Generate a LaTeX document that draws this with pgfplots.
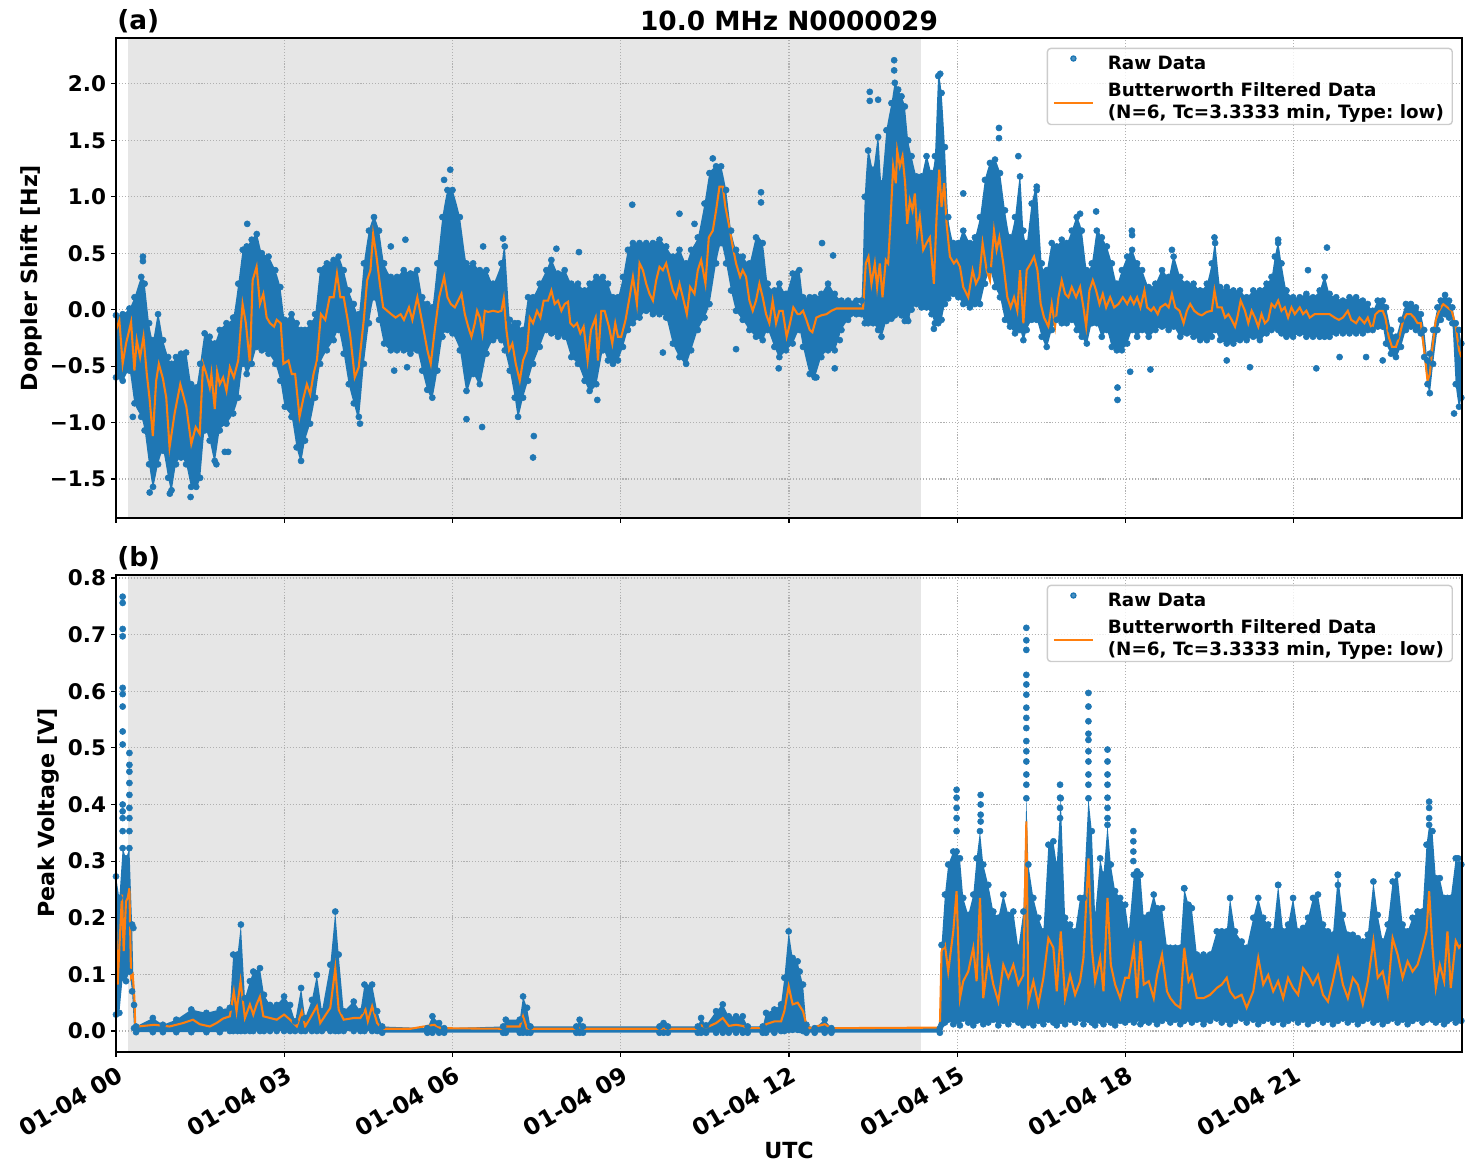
\documentclass[border=0pt]{standalone}
\usepackage{pgfplots}
\pgfplotsset{compat=1.18}
\usepackage{pgfplotstable}
\usepgfplotslibrary{fillbetween}
\usepackage{fontspec}
\setmainfont{DejaVu Sans}
\frenchspacing

\definecolor{mplblue}{HTML}{1F77B4}
\definecolor{mplorange}{HTML}{FF7F0E}
\definecolor{spanbg}{RGB}{230,230,230}
\definecolor{gridgray}{HTML}{B0B0B0}
\definecolor{legframe}{HTML}{CCCCCC}

% ---------- Doppler shift: envelope of the raw samples (t [h], low, high) ----------
\pgfplotstableread{
t lo hi
0.000 -0.60 -0.05
0.120 -0.63 -0.04
0.240 -0.54 0.01
0.330 -0.83 0.11
0.450 -0.95 0.29
0.510 -1.07 0.23
0.590 -1.37 -0.12
0.660 -1.57 -0.27
0.750 -1.37 -0.04
0.840 -1.25 -0.27
0.930 -1.49 -0.42
0.990 -1.60 -0.48
1.070 -1.37 -0.42
1.160 -1.31 -0.39
1.250 -1.37 -0.38
1.340 -1.57 -0.66
1.430 -1.57 -0.69
1.500 -1.49 -0.48
1.580 -1.07 -0.21
1.670 -1.16 -0.24
1.760 -1.34 -0.30
1.850 -1.07 -0.18
1.970 -1.01 -0.12
2.090 -0.92 -0.07
2.180 -0.78 0.23
2.260 -0.48 0.53
2.330 -0.57 0.56
2.420 -0.48 0.62
2.510 -0.33 0.67
2.600 -0.36 0.50
2.720 -0.39 0.47
2.840 -0.48 0.35
2.930 -0.63 0.20
3.010 -0.86 -0.09
3.130 -0.95 -0.04
3.220 -1.22 -0.12
3.300 -1.34 -0.18
3.370 -1.16 -0.18
3.460 -1.01 -0.12
3.550 -0.78 -0.04
3.640 -0.48 0.35
3.760 -0.36 0.41
3.880 -0.27 0.44
3.970 -0.18 0.47
4.060 -0.39 0.35
4.150 -0.66 0.17
4.240 -0.83 0.05
4.330 -0.95 -0.04
4.420 -0.48 0.41
4.510 -0.12 0.70
4.600 0.11 0.82
4.690 -0.09 0.70
4.780 -0.30 0.41
4.900 -0.36 0.29
5.010 -0.36 0.29
5.130 -0.36 0.35
5.250 -0.39 0.32
5.370 -0.36 0.35
5.460 -0.54 0.11
5.550 -0.71 0.05
5.640 -0.78 0.02
5.730 -0.54 0.41
5.820 -0.24 0.82
5.910 -0.18 1.06
6.000 -0.21 1.06
6.131 -0.36 0.82
6.249 -0.72 0.41
6.368 -0.57 0.41
6.487 -0.66 0.35
6.605 -0.39 0.35
6.724 -0.27 0.23
6.872 -0.27 0.41
6.932 -0.36 0.56
7.021 -0.54 -0.09
7.110 -0.78 -0.12
7.169 -0.95 -0.12
7.258 -0.78 -0.18
7.347 -0.63 0.11
7.436 -0.48 0.11
7.555 -0.33 0.23
7.674 -0.18 0.35
7.763 -0.21 0.44
7.881 -0.24 0.32
8.000 -0.24 0.35
8.119 -0.42 0.23
8.237 -0.48 0.23
8.356 -0.63 0.17
8.445 -0.72 0.23
8.564 -0.66 0.29
8.682 -0.36 0.29
8.772 -0.45 0.23
8.861 -0.48 0.11
8.950 -0.45 0.11
9.039 -0.33 0.29
9.128 -0.18 0.53
9.217 -0.12 0.59
9.335 -0.07 0.59
9.454 -0.01 0.59
9.573 -0.04 0.59
9.691 -0.04 0.62
9.810 -0.07 0.56
9.929 -0.30 0.47
10.047 -0.42 0.53
10.166 -0.48 0.41
10.255 -0.36 0.53
10.374 -0.18 0.64
10.493 -0.07 0.94
10.582 0.05 1.21
10.700 0.41 1.27
10.789 0.59 1.27
10.878 0.41 1.06
10.967 0.17 0.70
11.056 -0.01 0.53
11.175 -0.09 0.47
11.294 -0.18 0.41
11.412 -0.24 0.64
11.531 -0.27 0.59
11.620 -0.18 0.23
11.739 -0.33 0.17
11.828 -0.42 0.23
11.947 -0.36 0.14
12.065 -0.30 0.32
12.184 -0.18 0.35
12.250 -0.33 0.11
12.369 -0.57 0.11
12.458 -0.60 0.11
12.577 -0.42 0.14
12.696 -0.36 0.23
12.815 -0.36 0.14
12.935 -0.18 0.08
13.054 -0.09 0.08
13.202 -0.04 0.08
13.292 -0.04 0.08
13.351 -0.12 1.00
13.411 -0.12 1.41
13.500 -0.12 1.24
13.589 -0.18 1.53
13.649 -0.24 1.12
13.738 -0.10 1.59
13.827 -0.08 1.83
13.887 -0.05 2.01
13.946 -0.02 1.95
14.006 -0.05 1.89
14.065 -0.10 1.80
14.125 -0.10 1.50
14.185 0.00 1.36
14.274 0.05 1.18
14.363 0.02 1.18
14.452 0.02 1.36
14.542 -0.04 1.21
14.601 -0.12 1.36
14.661 -0.12 2.07
14.720 -0.09 1.92
14.780 0.05 1.44
14.839 0.10 0.82
14.929 0.14 0.59
15.018 0.11 0.59
15.107 0.05 0.70
15.226 0.02 0.59
15.315 0.05 0.64
15.405 0.05 0.82
15.494 0.23 1.15
15.583 0.35 1.30
15.673 0.20 1.33
15.762 0.11 1.21
15.851 -0.09 0.88
15.940 -0.15 0.64
16.030 -0.21 0.82
16.119 -0.18 1.18
16.179 -0.27 0.70
16.238 -0.18 0.59
16.327 -0.09 0.94
16.417 -0.09 1.06
16.506 -0.24 0.41
16.595 -0.33 0.35
16.685 -0.18 0.59
16.774 -0.09 0.56
16.863 -0.12 0.62
16.952 -0.12 0.59
17.042 -0.09 0.70
17.131 -0.18 0.82
17.220 -0.24 0.70
17.310 -0.30 0.35
17.399 -0.12 0.41
17.488 -0.12 0.70
17.577 -0.24 0.64
17.667 -0.18 0.56
17.756 -0.33 0.41
17.845 -0.36 0.23
17.935 -0.36 0.35
18.030 -0.30 0.47
18.118 -0.18 0.53
18.207 -0.24 0.41
18.296 -0.18 0.35
18.414 -0.24 0.20
18.533 -0.18 0.23
18.651 -0.15 0.35
18.769 -0.18 0.29
18.858 -0.15 0.47
18.976 -0.24 0.29
19.095 -0.21 0.23
19.213 -0.24 0.23
19.331 -0.27 0.17
19.450 -0.27 0.23
19.538 -0.24 0.41
19.598 -0.18 0.59
19.686 -0.27 0.20
19.805 -0.30 0.20
19.923 -0.30 0.17
20.041 -0.27 0.17
20.160 -0.27 0.11
20.278 -0.24 0.17
20.396 -0.27 0.17
20.515 -0.21 0.23
20.604 -0.18 0.29
20.663 -0.15 0.47
20.722 -0.18 0.59
20.781 -0.21 0.41
20.870 -0.24 0.17
20.988 -0.24 0.11
21.107 -0.21 0.11
21.225 -0.24 0.14
21.343 -0.24 0.11
21.462 -0.24 0.17
21.550 -0.24 0.29
21.639 -0.24 0.14
21.757 -0.21 0.11
21.876 -0.21 0.08
21.994 -0.21 0.11
22.112 -0.21 0.11
22.231 -0.21 0.08
22.320 -0.18 0.05
22.408 -0.18 -0.01
22.497 -0.15 0.08
22.586 -0.15 0.08
22.645 -0.30 0.02
22.734 -0.39 -0.18
22.822 -0.42 -0.24
22.911 -0.33 -0.09
23.000 -0.18 0.05
23.089 -0.15 0.05
23.178 -0.18 0.02
23.266 -0.21 -0.04
23.325 -0.42 -0.18
23.385 -0.66 -0.45
23.426 -0.74 -0.39
23.485 -0.48 -0.18
23.562 -0.18 0.02
23.621 -0.09 0.08
23.698 -0.04 0.13
23.769 -0.07 0.08
23.828 -0.12 0.02
23.888 -0.66 -0.12
23.947 -0.86 -0.18
23.988 -0.78 -0.30
}\dopenv

% ---------- Doppler shift: isolated raw samples ----------
\pgfplotstableread{
t v
0.30 -0.95
0.48 0.47
0.48 0.43
0.60 -1.62
0.96 -1.63
1.33 -1.66
1.79 -1.37
1.94 -1.26
2.00 -1.26
2.34 0.76
4.35 -1.01
4.90 0.56
4.96 -0.54
5.16 0.62
5.19 -0.51
5.85 1.15
5.96 1.24
6.249 -0.97
6.528 -1.04
6.546 0.56
6.902 0.63
7.436 -1.31
7.45 -1.12
7.852 0.54
8.255 0.51
8.582 -0.80
9.205 0.93
9.751 -0.38
10.047 0.85
10.315 0.76
10.641 1.34
11.056 -0.35
11.501 1.04
11.501 0.95
11.816 -0.52
12.488 -0.60
12.589 0.59
12.786 0.48
12.815 -0.52
12.905 -0.27
13.440 1.93
13.440 1.85
13.589 1.86
13.875 2.21
13.875 2.12
14.095 -0.07
14.583 -0.17
14.696 2.09
15.107 1.03
15.744 1.61
15.744 1.52
16.089 1.36
16.417 1.09
17.190 0.85
17.476 0.87
17.857 -0.69
17.857 -0.80
18.083 -0.55
18.113 0.70
18.118 0.66
18.444 -0.53
18.828 0.53
19.586 0.64
19.805 -0.45
20.219 -0.51
20.722 0.62
21.254 0.35
21.402 -0.52
21.592 0.55
21.817 -0.42
22.290 -0.42
22.586 -0.45
23.858 -0.92
}\dopout

% ---------- Doppler shift: low-pass filtered series ----------
\pgfplotstableread{
t v
0.000 -0.18
0.060 -0.095
0.119 -0.48
0.179 -0.30
0.269 -0.11
0.328 -0.54
0.370 -0.27
0.430 -0.42
0.490 -0.24
0.549 -0.57
0.597 -0.78
0.657 -1.12
0.716 -0.63
0.764 -0.48
0.836 -0.61
0.896 -0.78
0.955 -1.22
1.045 -0.92
1.146 -0.66
1.254 -0.86
1.343 -1.19
1.421 -1.04
1.493 -1.10
1.552 -0.48
1.612 -0.57
1.672 -0.69
1.701 -0.57
1.761 -0.88
1.803 -0.55
1.851 -0.66
1.910 -0.60
1.970 -0.72
2.030 -0.51
2.101 -0.60
2.179 -0.45
2.257 0.05
2.316 -0.12
2.388 -0.48
2.436 0.26
2.507 0.38
2.567 0.05
2.627 0.14
2.687 -0.07
2.746 -0.12
2.818 -0.15
2.866 -0.09
2.937 -0.12
2.985 -0.48
3.075 -0.45
3.134 -0.57
3.194 -0.57
3.272 -0.95
3.343 -0.78
3.403 -0.66
3.463 -0.75
3.522 -0.57
3.582 -0.45
3.654 -0.04
3.731 -0.09
3.809 0.11
3.881 0.11
3.940 0.32
4.000 0.11
4.060 0.11
4.131 -0.09
4.179 -0.24
4.257 -0.60
4.328 -0.51
4.418 -0.09
4.478 0.26
4.537 0.35
4.585 0.67
4.645 0.47
4.704 0.23
4.764 0.02
4.836 -0.01
4.907 -0.04
4.985 -0.07
5.075 -0.04
5.134 -0.09
5.224 0.02
5.284 -0.09
5.373 0.11
5.463 -0.12
5.552 -0.36
5.612 -0.48
5.684 -0.18
5.761 0.11
5.851 0.29
5.910 0.11
5.970 0.05
6.042 0.02
6.101 0.08
6.160 0.14
6.220 -0.04
6.279 -0.15
6.338 -0.24
6.398 -0.12
6.439 -0.01
6.487 -0.07
6.534 -0.21
6.576 -0.01
6.635 -0.02
6.724 -0.01
6.813 -0.02
6.872 -0.01
6.914 0.10
6.961 -0.18
7.009 -0.36
7.068 -0.30
7.128 -0.48
7.199 -0.63
7.258 -0.45
7.329 -0.36
7.377 -0.07
7.436 -0.12
7.507 -0.01
7.567 -0.07
7.626 0.08
7.703 0.08
7.763 0.17
7.822 0.05
7.881 0.08
7.941 -0.01
8.000 0.05
8.059 0.07
8.101 -0.12
8.160 -0.15
8.220 -0.12
8.279 -0.21
8.338 -0.15
8.409 -0.45
8.469 -0.18
8.552 -0.07
8.593 -0.45
8.653 -0.01
8.712 -0.01
8.789 -0.15
8.849 -0.30
8.902 -0.12
8.950 -0.24
9.009 -0.24
9.086 -0.09
9.157 0.11
9.217 0.29
9.288 0.05
9.335 0.41
9.395 0.35
9.454 0.23
9.513 0.14
9.573 0.08
9.632 0.26
9.691 0.38
9.751 0.35
9.810 0.41
9.869 0.29
9.929 0.17
9.988 0.11
10.047 0.23
10.107 0.11
10.178 -0.04
10.237 0.20
10.315 0.14
10.374 0.35
10.433 0.44
10.510 0.23
10.570 0.64
10.641 0.70
10.700 0.88
10.760 1.09
10.819 1.09
10.866 0.91
10.926 0.76
10.985 0.59
11.056 0.41
11.128 0.29
11.175 0.35
11.234 0.29
11.294 0.08
11.353 -0.01
11.412 0.08
11.472 0.23
11.531 0.11
11.591 -0.04
11.650 -0.12
11.709 0.08
11.769 -0.12
11.828 -0.01
11.887 -0.01
11.958 -0.24
12.018 -0.12
12.077 0.02
12.154 -0.04
12.190 -0.04
12.250 -0.01
12.310 -0.09
12.369 -0.18
12.417 -0.20
12.488 -0.07
12.577 -0.05
12.667 -0.04
12.756 -0.01
12.845 0.01
12.964 0.01
13.083 0.01
13.202 0.01
13.321 0.01
13.369 0.41
13.417 0.47
13.470 0.23
13.530 0.41
13.571 0.20
13.619 0.41
13.667 0.11
13.726 0.44
13.768 0.41
13.810 0.79
13.857 1.27
13.905 1.12
13.929 1.41
13.976 1.27
14.024 1.36
14.071 1.12
14.107 0.76
14.155 0.97
14.202 0.88
14.244 1.03
14.286 0.67
14.333 0.82
14.393 0.53
14.452 0.59
14.512 0.64
14.583 0.23
14.631 0.82
14.679 1.24
14.720 0.91
14.768 1.12
14.810 0.76
14.869 0.47
14.940 0.41
14.988 0.44
15.048 0.38
15.107 0.20
15.196 0.11
15.274 0.35
15.333 0.23
15.393 0.29
15.452 0.59
15.524 0.35
15.583 0.26
15.655 0.70
15.702 0.53
15.750 0.64
15.821 0.41
15.893 0.11
15.952 0.02
16.012 0.11
16.071 -0.01
16.119 0.35
16.179 -0.12
16.238 0.35
16.310 0.41
16.369 0.47
16.429 0.35
16.488 0.05
16.548 -0.07
16.625 -0.15
16.685 0.05
16.744 -0.15
16.804 0.11
16.863 0.26
16.923 0.14
16.982 0.11
17.042 0.20
17.119 0.11
17.190 0.20
17.250 0.02
17.298 -0.15
17.357 0.17
17.417 0.26
17.476 0.17
17.536 0.05
17.595 0.14
17.655 0.02
17.726 0.11
17.798 0.02
17.875 0.05
17.952 0.11
18.030 0.05
18.089 0.11
18.148 0.05
18.207 0.11
18.266 0.02
18.337 0.17
18.385 0.02
18.456 -0.01
18.503 0.02
18.574 -0.04
18.621 0.02
18.710 0.05
18.769 0.02
18.828 0.14
18.888 0.02
18.964 -0.01
19.036 -0.12
19.095 -0.01
19.154 0.05
19.225 -0.01
19.302 -0.04
19.361 -0.05
19.450 -0.02
19.538 -0.01
19.586 0.17
19.639 0.02
19.716 0.02
19.775 -0.07
19.834 -0.04
19.893 -0.09
19.953 -0.15
19.994 -0.07
20.053 0.08
20.130 -0.01
20.189 -0.12
20.249 -0.01
20.308 -0.07
20.367 -0.15
20.426 -0.04
20.485 -0.12
20.544 -0.09
20.604 0.05
20.663 0.02
20.722 0.08
20.781 -0.01
20.840 0.02
20.899 -0.07
20.959 0.02
21.018 -0.04
21.107 0.02
21.166 -0.04
21.225 -0.01
21.284 -0.07
21.373 -0.04
21.462 -0.04
21.550 -0.04
21.639 -0.04
21.728 -0.07
21.805 -0.09
21.876 -0.07
21.964 -0.01
22.024 -0.09
22.112 -0.12
22.172 -0.07
22.260 -0.12
22.320 -0.07
22.396 -0.18
22.456 -0.04
22.527 -0.01
22.586 -0.01
22.633 -0.07
22.692 -0.24
22.751 -0.33
22.822 -0.33
22.882 -0.24
22.953 -0.09
23.012 -0.04
23.089 -0.04
23.148 -0.07
23.207 -0.12
23.266 -0.12
23.325 -0.36
23.385 -0.63
23.426 -0.57
23.473 -0.33
23.533 -0.09
23.592 -0.01
23.663 0.05
23.740 0.02
23.817 -0.01
23.888 -0.15
23.947 -0.36
23.988 -0.42
}\dopfilt

% ---------- Peak voltage: envelope of the raw samples ----------
\pgfplotstableread{
t lo hi
0.000 0.029 0.273
0.060 0.032 0.235
0.119 0.094 0.323
0.179 0.088 0.305
0.239 0.105 0.323
0.287 0.070 0.188
0.322 0.005 0.046
0.358 -0.002 0.008
0.657 -0.002 0.023
0.836 -0.002 0.011
1.075 -0.002 0.020
1.343 -0.002 0.038
1.612 -0.002 0.032
1.851 -0.002 0.038
2.030 0.000 0.041
2.090 0.000 0.135
2.167 0.000 0.135
2.227 0.000 0.188
2.299 0.000 0.058
2.388 0.000 0.088
2.448 0.000 0.105
2.567 0.000 0.111
2.639 0.000 0.064
2.746 0.000 0.046
2.866 0.000 0.046
2.997 0.000 0.061
3.104 0.000 0.046
3.194 0.000 0.017
3.301 0.000 0.076
3.373 0.000 0.023
3.493 0.000 0.055
3.582 0.000 0.099
3.672 0.000 0.035
3.821 0.000 0.117
3.910 0.000 0.211
3.970 0.000 0.135
4.060 0.000 0.035
4.239 0.000 0.052
4.358 0.000 0.035
4.430 0.000 0.082
4.567 0.000 0.082
4.657 0.000 0.035
4.746 -0.003 0.008
5.552 -0.003 0.005
5.642 -0.003 0.026
5.761 -0.003 0.014
5.851 -0.003 0.005
6.902 -0.003 0.008
6.950 -0.003 0.020
7.199 -0.003 0.020
7.258 -0.003 0.061
7.329 -0.003 0.041
7.389 -0.003 0.008
8.208 -0.003 0.008
8.267 -0.003 0.020
8.326 -0.003 0.008
9.691 -0.003 0.008
9.763 -0.003 0.014
9.840 -0.003 0.008
10.374 -0.003 0.008
10.433 -0.003 0.023
10.522 -0.003 0.010
10.700 -0.003 0.035
10.819 -0.003 0.047
10.926 -0.003 0.026
11.056 -0.003 0.026
11.175 -0.003 0.026
11.264 -0.003 0.008
11.531 -0.003 0.008
11.591 -0.003 0.032
11.739 -0.003 0.038
11.858 0.000 0.047
11.917 0.000 0.094
11.994 0.002 0.176
12.065 0.002 0.129
12.154 0.002 0.123
12.190 0.002 0.105
12.250 0.000 0.082
12.310 -0.003 0.011
12.458 -0.003 0.005
12.637 -0.003 0.020
12.756 -0.003 0.005
14.690 -0.003 0.005
14.720 0.011 0.152
14.780 0.015 0.241
14.839 0.020 0.294
14.929 0.012 0.317
14.988 0.018 0.317
15.048 0.010 0.305
15.107 0.022 0.235
15.196 0.015 0.205
15.286 0.010 0.241
15.345 0.018 0.305
15.405 0.020 0.353
15.464 0.012 0.294
15.554 0.015 0.258
15.643 0.020 0.211
15.732 0.010 0.200
15.821 0.018 0.241
15.911 0.012 0.205
16.000 0.020 0.211
16.089 0.015 0.147
16.179 0.010 0.211
16.232 0.020 0.411
16.268 0.015 0.294
16.357 0.010 0.235
16.446 0.018 0.200
16.536 0.012 0.176
16.625 0.020 0.329
16.714 0.015 0.335
16.774 0.010 0.294
16.845 0.018 0.411
16.923 0.012 0.200
17.012 0.020 0.188
17.101 0.015 0.176
17.190 0.022 0.235
17.250 0.012 0.235
17.339 0.020 0.411
17.399 0.015 0.353
17.458 0.010 0.205
17.548 0.018 0.305
17.607 0.012 0.276
17.679 0.020 0.364
17.738 0.015 0.294
17.815 0.010 0.247
17.905 0.018 0.235
17.994 0.015 0.223
18.059 0.020 0.176
18.148 0.015 0.276
18.207 0.022 0.282
18.266 0.012 0.276
18.325 0.018 0.200
18.414 0.015 0.205
18.503 0.020 0.241
18.562 0.012 0.217
18.651 0.018 0.217
18.740 0.022 0.147
18.799 0.015 0.147
18.888 0.020 0.147
18.976 0.012 0.147
19.047 0.018 0.252
19.124 0.022 0.223
19.183 0.015 0.217
19.272 0.020 0.135
19.391 0.012 0.135
19.509 0.018 0.135
19.627 0.022 0.176
19.716 0.015 0.176
19.805 0.020 0.176
19.864 0.012 0.235
19.953 0.018 0.176
20.071 0.022 0.158
20.160 0.015 0.147
20.278 0.020 0.200
20.367 0.012 0.235
20.456 0.018 0.200
20.544 0.022 0.188
20.633 0.015 0.176
20.722 0.020 0.258
20.811 0.012 0.176
20.899 0.018 0.188
20.988 0.022 0.235
21.077 0.015 0.176
21.166 0.020 0.182
21.254 0.012 0.200
21.343 0.018 0.235
21.432 0.022 0.241
21.521 0.015 0.188
21.609 0.020 0.176
21.698 0.012 0.170
21.787 0.018 0.276
21.876 0.022 0.205
21.964 0.015 0.170
22.053 0.020 0.170
22.142 0.012 0.164
22.231 0.018 0.158
22.320 0.022 0.170
22.420 0.015 0.264
22.497 0.020 0.205
22.586 0.012 0.158
22.675 0.018 0.188
22.763 0.022 0.264
22.852 0.015 0.276
22.941 0.020 0.188
23.030 0.012 0.176
23.118 0.018 0.200
23.207 0.022 0.211
23.296 0.015 0.211
23.367 0.020 0.329
23.414 0.025 0.364
23.473 0.020 0.353
23.533 0.015 0.270
23.604 0.020 0.270
23.680 0.012 0.235
23.740 0.018 0.235
23.799 0.022 0.235
23.888 0.015 0.305
23.947 0.020 0.294
23.988 0.018 0.294
}\pvenv

% ---------- Peak voltage: isolated raw samples ----------
\pgfplotstableread{
t v
0.119 0.767
0.119 0.756
0.119 0.710
0.119 0.697
0.119 0.606
0.119 0.595
0.119 0.573
0.119 0.529
0.119 0.506
0.119 0.400
0.119 0.388
0.119 0.376
0.119 0.353
0.239 0.491
0.239 0.470
0.239 0.458
0.239 0.438
0.239 0.417
0.239 0.394
0.239 0.376
0.239 0.353
0.310 0.182
14.988 0.426
14.988 0.412
14.988 0.394
14.988 0.376
14.988 0.353
15.417 0.417
15.417 0.400
15.417 0.382
15.417 0.370
16.232 0.712
16.232 0.690
16.232 0.673
16.232 0.629
16.232 0.612
16.232 0.594
16.232 0.571
16.232 0.553
16.232 0.535
16.232 0.512
16.232 0.494
16.232 0.476
16.232 0.453
16.232 0.435
16.833 0.435
16.833 0.412
16.833 0.394
16.833 0.376
17.339 0.597
17.339 0.573
17.339 0.547
17.339 0.525
17.339 0.514
17.339 0.494
17.339 0.476
17.339 0.453
17.339 0.435
17.679 0.497
17.679 0.476
17.679 0.453
17.679 0.435
17.679 0.412
17.679 0.394
17.679 0.376
18.140 0.353
18.140 0.335
18.140 0.317
18.140 0.300
19.047 0.252
20.722 0.258
21.787 0.276
21.787 0.258
23.414 0.405
23.414 0.394
23.414 0.376
23.930 0.305
}\pvout

% ---------- Peak voltage: low-pass filtered series ----------
\pgfplotstableread{
t v
0.000 0.188
0.030 0.082
0.060 0.147
0.107 0.241
0.137 0.141
0.179 0.229
0.209 0.235
0.239 0.252
0.269 0.094
0.299 0.099
0.328 0.058
0.346 0.000
0.388 0.008
0.687 0.011
0.955 0.008
1.194 0.014
1.373 0.020
1.493 0.012
1.672 0.008
1.791 0.014
1.910 0.022
2.030 0.026
2.101 0.070
2.149 0.035
2.221 0.088
2.299 0.023
2.388 0.047
2.448 0.029
2.507 0.047
2.567 0.061
2.627 0.026
2.746 0.023
2.866 0.020
2.997 0.029
3.104 0.020
3.224 0.008
3.313 0.035
3.373 0.008
3.463 0.023
3.582 0.044
3.642 0.014
3.821 0.041
3.910 0.111
3.970 0.038
4.060 0.020
4.239 0.023
4.358 0.023
4.448 0.038
4.490 0.017
4.567 0.044
4.657 0.014
4.746 0.004
5.254 0.004
5.672 0.011
5.791 0.005
6.902 0.004
6.950 0.008
7.199 0.008
7.258 0.026
7.329 0.004
8.208 0.004
8.267 0.007
8.326 0.004
10.374 0.004
10.433 0.010
10.522 0.006
10.700 0.014
10.819 0.023
10.926 0.009
11.056 0.011
11.175 0.009
11.264 0.005
11.531 0.005
11.591 0.012
11.739 0.017
11.858 0.017
11.917 0.035
11.994 0.079
12.065 0.047
12.154 0.050
12.250 0.035
12.310 0.011
12.369 0.005
12.637 0.012
12.756 0.005
14.690 0.006
14.720 0.141
14.780 0.152
14.839 0.105
14.929 0.176
14.988 0.247
15.048 0.058
15.107 0.088
15.196 0.105
15.286 0.147
15.345 0.088
15.405 0.235
15.464 0.058
15.554 0.129
15.643 0.082
15.732 0.052
15.821 0.117
15.911 0.094
16.000 0.117
16.089 0.082
16.179 0.099
16.232 0.370
16.268 0.052
16.357 0.088
16.446 0.047
16.536 0.094
16.625 0.164
16.714 0.147
16.774 0.070
16.845 0.176
16.923 0.058
17.012 0.099
17.101 0.064
17.190 0.088
17.250 0.129
17.339 0.305
17.399 0.147
17.458 0.088
17.548 0.129
17.607 0.070
17.679 0.235
17.738 0.117
17.815 0.082
17.905 0.058
17.994 0.094
18.059 0.094
18.148 0.147
18.207 0.058
18.266 0.159
18.325 0.082
18.414 0.088
18.503 0.058
18.562 0.099
18.651 0.135
18.740 0.070
18.799 0.058
18.888 0.047
18.976 0.041
19.047 0.147
19.124 0.088
19.183 0.099
19.272 0.058
19.391 0.058
19.509 0.064
19.627 0.076
19.716 0.082
19.805 0.094
19.864 0.070
19.953 0.058
20.071 0.064
20.160 0.041
20.278 0.070
20.367 0.129
20.456 0.082
20.544 0.099
20.633 0.070
20.722 0.088
20.811 0.058
20.899 0.094
20.988 0.076
21.077 0.064
21.166 0.111
21.254 0.099
21.343 0.082
21.432 0.099
21.521 0.064
21.609 0.052
21.698 0.088
21.787 0.129
21.876 0.082
21.964 0.058
22.053 0.094
22.142 0.082
22.231 0.047
22.320 0.088
22.420 0.159
22.497 0.094
22.586 0.105
22.675 0.064
22.763 0.164
22.852 0.135
22.941 0.094
23.030 0.123
23.118 0.105
23.207 0.117
23.296 0.147
23.367 0.176
23.414 0.247
23.473 0.147
23.533 0.076
23.604 0.117
23.680 0.088
23.740 0.176
23.799 0.076
23.888 0.159
23.947 0.147
23.988 0.153
}\pvfilt

\newcommand{\tickfont}{\fontsize{15.5}{18}\selectfont\bfseries}
\newcommand{\xtickfont}{\fontsize{16.8}{19}\selectfont\bfseries}
\newcommand{\legfont}{\fontsize{13.2}{15.5}\selectfont\bfseries}
\newcommand{\labfont}{\fontsize{16}{19}\selectfont\bfseries}
\newcommand{\ttlfont}{\fontsize{19}{22}\selectfont\bfseries}

\pgfplotsset{
  panel/.style={
    scale only axis,
    width=969.12pt,
    xmin=0, xmax=24,
    xtick={0,3,6,9,12,15,18,21},
    tick pos=left,
    tick align=outside,
    major tick length=3.5pt,
    every tick/.style={black, line width=0.8pt},
    axis line style={line width=0.8pt},
    grid=major,
    major grid style={gridgray, line width=0.8pt, dash pattern=on 0.8pt off 1.32pt},
    set layers,
    ticklabel style={font=\tickfont},
    yticklabel style={inner sep=0pt, xshift=-3.5pt},
    /pgf/number format/assume math mode=true,
    legend cell align=left,
    legend style={
      at={(1,1)}, anchor=north east, xshift=-6.5pt, yshift=-7pt,
      font=\legfont, draw=legframe, line width=1pt, fill=white, fill opacity=0.8,
      text opacity=1, rounded corners=2.5pt,
      inner xsep=4pt, inner ysep=3.7pt, row sep=3.1pt,
      /tikz/every odd column/.append style={column sep=8pt},
    },
  },
  rawenv/.style={only marks, mark=*, mark size=2.2pt, color=mplblue, forget plot},
  envedge/.style={draw=none, forget plot, smooth, tension=0.35},
}

\newcommand{\legdot}{\fill[mplblue] (14pt,4pt) circle (1.8pt);}
\newcommand{\legline}{\draw[mplorange, line width=1.5pt] (0pt,-2.5pt) -- (28pt,-2.5pt);}
\newcommand{\filtlabel}{\begin{tabular}[c]{@{}l@{}}Butterworth Filtered Data\\(N=6, Tc=3.3333 min, Type: low)\rule[-15pt]{0pt}{15pt}\end{tabular}}

\begin{document}
\begin{tikzpicture}
\path (0,0) rectangle ({1472*0.72pt},{-1172*0.72pt});

% ===== (a) Doppler shift =====
\begin{axis}[panel,
  at={({116*0.72pt},{-38*0.72pt})}, anchor=north west,
  height=345.6pt,
  ymin=-1.846, ymax=2.407,
  ytick={-1.5,-1.0,-0.5,0,0.5,1.0,1.5,2.0},
  yticklabels={−1.5,−1.0,−0.5,0.0,0.5,1.0,1.5,2.0},
  xticklabels={},
]
\begin{pgfonlayer}{axis background}
  \fill[spanbg] (axis cs:0.22,-1.846) rectangle (axis cs:14.35,2.407);
\end{pgfonlayer}
\addplot[name path=dlo, envedge] table[x=t, y=lo] {\dopenv};
\addplot[name path=dhi, envedge] table[x=t, y=hi] {\dopenv};
\addplot[fill=mplblue, draw=none, forget plot] fill between[of=dlo and dhi];
\addplot[rawenv] table[x=t, y=lo] {\dopenv};
\addplot[rawenv] table[x=t, y=hi] {\dopenv};
\addplot[only marks, mark=*, mark size=2.2pt, color=mplblue,
  legend image code/.code={\legdot}] table[x=t, y=v] {\dopout};
\addlegendentry{Raw Data}
\addplot[mplorange, line width=1.5pt,
  legend image code/.code={\legline}] table[x=t, y=v] {\dopfilt};
\addlegendentry{\filtlabel}
\begin{pgfonlayer}{axis foreground}
  \draw[line width=0.8pt] (rel axis cs:0,0) rectangle (rel axis cs:1,1);
\end{pgfonlayer}
\end{axis}

% ===== (b) Peak voltage =====
\begin{axis}[panel,
  at={({116*0.72pt},{-575*0.72pt})}, anchor=north west,
  height=343.44pt,
  ymin=-0.0371, ymax=0.8053,
  ytick={0,0.1,0.2,0.3,0.4,0.5,0.6,0.7,0.8},
  yticklabels={0.0,0.1,0.2,0.3,0.4,0.5,0.6,0.7,0.8},
  xticklabels={01-04 00,01-04 03,01-04 06,01-04 09,01-04 12,01-04 15,01-04 18,01-04 21},
  xticklabel style={font=\xtickfont, rotate=30, anchor=north east, inner sep=0pt, xshift=-2.5pt, yshift=-5pt},
]
\begin{pgfonlayer}{axis background}
  \fill[spanbg] (axis cs:0.22,-0.0371) rectangle (axis cs:14.35,0.8053);
\end{pgfonlayer}
\addplot[name path=vlo, draw=none, forget plot] table[x=t, y=lo] {\pvenv};
\addplot[name path=vhi, draw=none, forget plot] table[x=t, y=hi] {\pvenv};
\addplot[fill=mplblue, draw=none, forget plot] fill between[of=vlo and vhi];
\addplot[rawenv] table[x=t, y=lo] {\pvenv};
\addplot[rawenv] table[x=t, y=hi] {\pvenv};
\addplot[only marks, mark=*, mark size=2.2pt, color=mplblue,
  legend image code/.code={\legdot}] table[x=t, y=v] {\pvout};
\addlegendentry{Raw Data}
\addplot[mplorange, line width=1.5pt,
  legend image code/.code={\legline}] table[x=t, y=v] {\pvfilt};
\addlegendentry{\filtlabel}
\begin{pgfonlayer}{axis foreground}
  \draw[line width=0.8pt] (rel axis cs:0,0) rectangle (rel axis cs:1,1);
\end{pgfonlayer}
\end{axis}

% ===== titles and axis labels =====
\node[anchor=base, inner sep=0pt, font=\ttlfont] at ({789*0.72pt},{-30*0.72pt}) {10.0 MHz N0000029};
\node[anchor=base west, inner sep=0pt, font=\ttlfont] at ({117*0.72pt},{-29.5*0.72pt}) {(a)};
\node[anchor=base west, inner sep=0pt, font=\ttlfont] at ({117*0.72pt},{-566*0.72pt}) {(b)};
\node[rotate=90, inner sep=0pt, font=\labfont] at ({31*0.72pt},{-278*0.72pt}) {Doppler Shift [Hz]};
\node[rotate=90, inner sep=0pt, font=\labfont] at ({48*0.72pt},{-813*0.72pt}) {Peak Voltage [V]};
\node[inner sep=0pt, font=\labfont] at ({789*0.72pt},{-1150*0.72pt}) {UTC};
\end{tikzpicture}
\end{document}
